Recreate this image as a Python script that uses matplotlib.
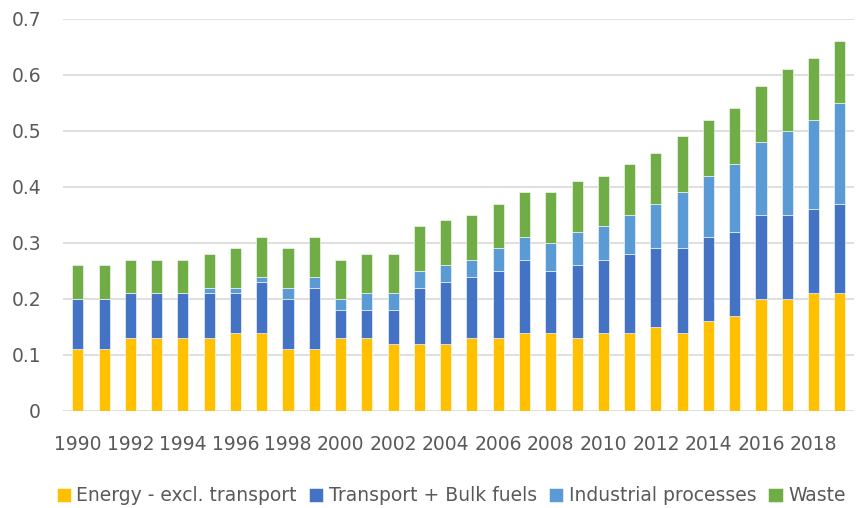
import numpy as np
import matplotlib.pyplot as plt

years = list(range(1990, 2020))
energy = [0.11, 0.11, 0.13, 0.13, 0.13, 0.13, 0.14, 0.14, 0.11, 0.11,
          0.13, 0.13, 0.12, 0.12, 0.12, 0.13, 0.13, 0.14, 0.14, 0.13,
          0.14, 0.14, 0.15, 0.14, 0.16, 0.17, 0.20, 0.20, 0.21, 0.21]
transport = [0.09, 0.09, 0.08, 0.08, 0.08, 0.08, 0.07, 0.09, 0.09, 0.11,
             0.05, 0.05, 0.06, 0.10, 0.11, 0.11, 0.12, 0.13, 0.11, 0.13,
             0.13, 0.14, 0.14, 0.15, 0.15, 0.15, 0.15, 0.15, 0.15, 0.16]
industrial = [0.00, 0.00, 0.00, 0.00, 0.00, 0.01, 0.01, 0.01, 0.02, 0.02,
              0.02, 0.03, 0.03, 0.03, 0.03, 0.03, 0.04, 0.04, 0.05, 0.06,
              0.06, 0.07, 0.08, 0.10, 0.11, 0.12, 0.13, 0.15, 0.16, 0.18]
waste = [0.06, 0.06, 0.06, 0.06, 0.06, 0.06, 0.07, 0.07, 0.07, 0.07,
         0.07, 0.07, 0.07, 0.08, 0.08, 0.08, 0.08, 0.08, 0.09, 0.09,
         0.09, 0.09, 0.09, 0.10, 0.10, 0.10, 0.10, 0.11, 0.11, 0.11]

labels = ["Energy - excl. transport", "Transport + Bulk fuels",
          "Industrial processes", "Waste"]
colors = ["#FFC000", "#4472C4", "#5B9BD5", "#70AD47"]

fig = plt.figure(figsize=(8.56, 5.08), dpi=100)
ax = fig.add_axes([0.074, 0.191, 0.924, 0.772])

x = np.arange(len(years))
bottom = np.zeros(len(years))
for vals, lab, c in zip([energy, transport, industrial, waste], labels, colors):
    ax.bar(x, vals, 0.42, bottom=bottom, color=c, label=lab,
           edgecolor="white", linewidth=0.4, zorder=3)
    bottom += np.array(vals)

ax.set_xlim(-0.55, len(years) - 0.45)
ax.set_ylim(0, 0.7)
ax.set_yticks(np.arange(0, 0.71, 0.1))
ax.set_yticklabels(["0", "0.1", "0.2", "0.3", "0.4", "0.5", "0.6", "0.7"])
ax.set_xticks(x[::2])
ax.set_xticklabels([str(y) for y in years[::2]])
ax.grid(axis="y", color="#D9D9D9", linewidth=1.2, zorder=0)
for s in ax.spines.values():
    s.set_visible(False)
ax.tick_params(length=0, labelsize=13.5, colors="#595959")
ax.tick_params(axis="x", pad=17)
ax.tick_params(axis="y", pad=16)

fig.legend(loc="center", bbox_to_anchor=(0.527, 0.024), ncol=4,
           frameon=False, fontsize=13.5, handlelength=0.75, handleheight=0.75,
           handletextpad=0.3, columnspacing=0.65, labelcolor="#595959")

fig.savefig("out.png", dpi=100)
